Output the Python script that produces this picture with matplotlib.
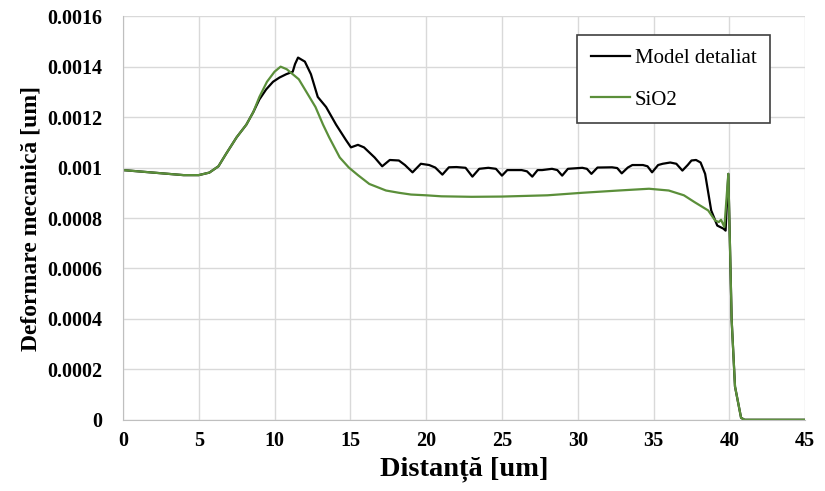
import numpy as np
import matplotlib

matplotlib.use('Agg')
import matplotlib.pyplot as plt

# ── data ──
x_model = [0, 1, 2, 3, 4, 5, 5.7, 6.3, 6.8, 7.5, 8.14, 8.6, 9.0, 9.45, 9.9, 10.33,
           10.77, 11.2, 11.35, 11.55, 12.0, 12.4, 12.85, 13.4, 14.06, 14.7, 15.04,
           15.5, 15.9, 16.25, 16.6, 17.1, 17.6, 18.2, 18.6, 19.1, 19.65,
           20.2, 20.6, 21.07, 21.5, 22.0, 22.6, 23.05, 23.5, 24.1, 24.6, 25.0, 25.35,
           25.7, 26.3, 26.65, 27.0, 27.35, 27.65, 28.3, 28.65, 28.97, 29.35, 30.3,
           30.6, 30.9, 31.3, 32.26, 32.6, 32.9, 33.3, 33.6, 34.3, 34.6, 34.9, 35.3,
           35.6, 36.1, 36.5, 36.9, 37.25, 37.5, 37.8, 38.1, 38.4, 38.8, 39.2, 39.6,
           39.75, 39.93, 40.15, 40.37, 40.77, 41, 42, 43, 44, 45]
y_model = [0.00099, 0.000985, 0.00098, 0.000975, 0.00097, 0.00097, 0.00098, 0.001005,
           0.001054, 0.00112, 0.00117, 0.00122, 0.00127, 0.00131, 0.00134, 0.001357,
           0.00137, 0.00138, 0.00141, 0.001436, 0.00142, 0.00137, 0.00128, 0.00124,
           0.00117, 0.00111, 0.00108, 0.00109, 0.00108,
           0.00106, 0.00104, 0.001005, 0.00103, 0.001028, 0.00101, 0.000981, 0.001015,
           0.00101, 0.001, 0.000972, 0.001001, 0.001002, 0.000999, 0.000964, 0.000995,
           0.000999, 0.000995, 0.000968, 0.00099, 0.00099, 0.00099, 0.000985, 0.000964,
           0.00099, 0.00099, 0.000995, 0.00099, 0.000968, 0.000995, 0.000999, 0.000995,
           0.000975, 0.001, 0.001001, 0.000998, 0.000977, 0.001, 0.00101, 0.00101,
           0.001005, 0.000981, 0.00101, 0.001015, 0.00102, 0.001015, 0.000988, 0.00101,
           0.001028, 0.00103, 0.00102, 0.000975, 0.00083, 0.00077, 0.000758, 0.00075,
           0.000975, 0.000395, 0.000132, 0.000008, 0.0, 0.0, 0.0, 0.0, 0.0]

x_sio2 = [0, 1, 2, 3, 4, 5, 5.7, 6.3, 6.8, 7.5, 8.14, 8.6, 9.0, 9.5, 10.0, 10.4,
          10.8, 11.2, 11.6, 12.1, 12.7, 13.2, 13.6, 14.3, 14.9, 15.5, 16.25, 17.35,
          18.2, 19.0, 20.0, 21.0, 22.0, 23.0, 25.0, 28.0, 30.3, 32.7, 34.7, 36.0,
          37.0, 37.7, 38.6, 39.06, 39.3, 39.45, 39.67, 39.93, 40.15, 40.37, 40.77,
          41, 42, 43, 44, 45]
y_sio2 = [0.00099, 0.000985, 0.00098, 0.000975, 0.00097, 0.00097, 0.00098, 0.001005,
          0.001054, 0.00112, 0.00117, 0.00122, 0.00128, 0.00134, 0.00138, 0.0014,
          0.00139, 0.00137, 0.00135, 0.0013, 0.00124, 0.00117, 0.00112, 0.00104, 0.001,
          0.00097, 0.000935, 0.000909, 0.0009, 0.000893, 0.00089, 0.000886, 0.000885,
          0.000884, 0.000885, 0.00089, 0.0009, 0.000909, 0.000916, 0.000909, 0.00089,
          0.000863, 0.00083, 0.00079, 0.000784, 0.000793, 0.000764, 0.000975,
          0.000395, 0.000132, 0.000008, 0.0, 0.0, 0.0, 0.0, 0.0]

x_ticks = np.arange(0, 46, 5)
y_ticks = [0, 0.0002, 0.0004, 0.0006, 0.0008, 0.001, 0.0012, 0.0014, 0.0016]
y_labels = ['0', '0.0002', '0.0004', '0.0006', '0.0008', '0.001', '0.0012', '0.0014', '0.0016']

plt.rcParams['font.family'] = ['Liberation Serif', 'DejaVu Serif']

fig = plt.figure(figsize=(8.25, 4.91), dpi=100)
ax = fig.add_axes([0.149, 0.145, 0.827, 0.822])

ax.plot(x_model, y_model, color='black', linewidth=1.6, label='Model detaliat')
ax.plot(x_sio2, y_sio2, color='#5b8f3a', linewidth=1.6, label='SiO2')

ax.set_xlim(0, 45)
ax.set_ylim(0, 0.0016)
ax.set_xticks(x_ticks)
ax.set_yticks(y_ticks)
ax.set_yticklabels(y_labels)
ax.tick_params(length=0, labelsize=14.5)
ax.tick_params(axis='x', pad=8)
ax.tick_params(axis='y', pad=15)
for lbl in ax.get_xticklabels() + ax.get_yticklabels():
    lbl.set_fontweight('bold')

ax.grid(True, color='#d9d9d9', linewidth=1)
ax.set_axisbelow(True)
for side in ['top', 'right']:
    ax.spines[side].set_visible(False)
for side in ['left', 'bottom']:
    ax.spines[side].set_color('#bfbfbf')

ax.set_xlabel('Distanță [um]', fontsize=20.5, fontweight='bold', labelpad=4)
ax.set_ylabel('Deformare mecanică [um]', fontsize=17, fontweight='bold', labelpad=4)

leg = ax.legend(loc='upper left', bbox_to_anchor=(0.666, 0.953), borderaxespad=0,
                fontsize=15, handlelength=1.9, handletextpad=0.2, labelspacing=1.05,
                borderpad=0.65, fancybox=False, framealpha=1)
leg.get_frame().set_edgecolor('#404040')
leg.get_frame().set_linewidth(1.2)

plt.savefig('out.png', dpi=100)
plt.close()
